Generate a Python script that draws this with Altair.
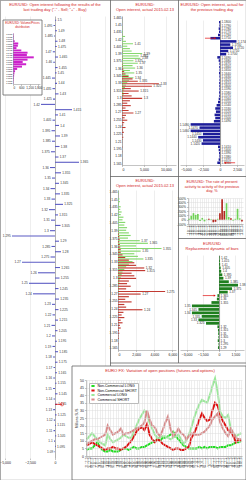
import altair as alt
import pandas as pd

FONT = "Liberation Sans"
TITLE_RED = "#d21a1a"
LEFT_BAR = "#5b5bc4"
NAVY = "#1d1d9a"
CALL_GREEN = "#86d86e"
PUT_RED = "#c23a32"
DARK_GREEN = "#1f7f1f"
MAGENTA = "#cc22cc"
TXT = "#333333"
BORDER = "#666666"
ARROW_RED = "#e01010"
H = 480

# ---------------- Left panel: change of open interest by price level ----------------
left_prices = [1.500, 1.495, 1.490, 1.485, 1.480, 1.475, 1.470, 1.465, 1.460, 1.455,
               1.450, 1.445, 1.440, 1.435, 1.430, 1.425, 1.420, 1.415, 1.410, 1.405,
               1.400, 1.395, 1.390, 1.385, 1.380, 1.375, 1.370, 1.365, 1.360, 1.355,
               1.350, 1.345, 1.340, 1.335, 1.330, 1.325, 1.320, 1.315, 1.310, 1.305,
               1.300, 1.295, 1.290, 1.285, 1.280, 1.275, 1.270, 1.265, 1.260, 1.255,
               1.250, 1.245, 1.240, 1.235, 1.230, 1.225, 1.220, 1.215, 1.210, 1.205,
               1.200, 1.195, 1.190, 1.185, 1.180, 1.175, 1.170, 1.165, 1.160, 1.155,
               1.150, 1.145, 1.140, 1.135, 1.130, 1.125, 1.120, 1.115, 1.110, 1.105,
               1.100, 1.095, 1.090]
left_values = [120, -150, 200, -100, 250, 180, -220, 300, -180, 260,
               150, -300, 200, -250, 350, -200, -1400, 1700, 300, -250,
               400, -350, 500, -300, 450, -400, 350, 2400, -500, 600,
               -300, 400, -450, 500, -350, 800, -600, 300, -400, 550,
               -500, -4300, 400, -350, 600, -450, -3300, 500, -1700, 450,
               -2600, 350, -2200, 400, -300, 350, -250, 300, -350, 250,
               -300, 200, -250, 300, -200, 250, -150, 200, -180, 150,
               -200, 250, -150, 200, -180, 150, -120, 100, -150, 120,
               -100, 80, -60]
current_price = 1.135
current_mark_x = 700
left_title = ["EUR/USD:  Open interest following the results of the",
              'last trading day ("-" - Sell; "+" - Buy)']

inset_levels = ["1.1650", "1.1625", "1.1600", "1.1575", "1.1550", "1.1525", "1.1500", "1.1475",
                "1.1450", "1.1425", "1.1400", "1.1375", "1.1350", "1.1325", "1.1300", "1.1275",
                "1.1250", "1.1225", "1.1200", "1.1175", "1.1150", "1.1125"]
inset_volumes = [30, 50, 40, 120, 380, 350, 250, 600, 1050, 1000, 1500, 1050,
                 700, 950, 650, 300, 150, 100, 80, 60, 40, 30]
inset_title = ["EUR/USD: Volume/Prices", "distribution"]

# ---------------- Middle panels: option open interest by strike ----------------
strikes = ["1.465", "1.46", "1.455", "1.45", "1.445", "1.44", "1.435", "1.43", "1.425", "1.42",
           "1.415", "1.41", "1.405", "1.4", "1.395", "1.39", "1.385", "1.38", "1.375", "1.37",
           "1.365", "1.36", "1.355", "1.35", "1.345", "1.34", "1.335", "1.33", "1.325", "1.32",
           "1.315", "1.31", "1.305", "1.3", "1.295", "1.29", "1.285", "1.28", "1.275", "1.27",
           "1.265", "1.26", "1.255", "1.25", "1.245", "1.24", "1.235", "1.23", "1.225", "1.22",
           "1.215", "1.21", "1.205", "1.2", "1.195", "1.19", "1.185", "1.18", "1.175", "1.17",
           "1.165"]
oi1_calls = [0, 30, 50, 0, 100, 60, 200, 150, 700, 300,
             900, 2500, 1200, 1800, 2200, 4600, 3800, 4200, 2600, 3600,
             2400, 3000, 1800, 2800, 1500, 2600, 1600, 1200, 900, 700,
             500, 300, 400, 200, 150, 100, 80, 60, 40, 50,
             30, 20, 0, 40, 0, 20, 0, 30, 0, 10,
             0, 20, 0, 0, 10, 0, 0, 0, 10, 0, 0]
oi1_puts = [0, 0, 0, 0, 0, 0, 0, 20, 0, 30,
            0, 40, 0, 50, 60, 0, 80, 100, 50, 120,
            200, 300, 500, 800, 1500, 2400, 3600, 8400, 6800, 2000,
            3800, 1500, 2200, 4600, 1800, 1200, 2000, 800, 1500, 2600,
            900, 600, 1200, 500, 300, 800, 200, 400, 150, 300,
            100, 50, 0, 100, 0, 50, 0, 0, 30, 0, 0]
oi2_calls = [50, 100, 0, 150, 200, 100, 300, 250, 400, 300,
             600, 500, 800, 700, 1000, 900, 1200, 1400, 1100, 2400,
             3300, 2000, 4800, 2500, 1800, 2200, 2800, 1600, 1200, 900,
             700, 500, 400, 300, 200, 150, 100, 80, 60, 50,
             40, 30, 20, 0, 30, 0, 20, 0, 10, 0,
             0, 10, 0, 0, 0, 10, 0, 0, 0, 0, 0]
oi2_puts = [0, 0, 0, 0, 0, 0, 0, 0, 0, 0,
            0, 0, 0, 0, 0, 50, 100, 150, 200, 150,
            200, 250, 300, 300, 500, 800, 1200, 1800, 2000, 2900,
            3000, 1500, 1800, 2000, 1200, 1000, 1400, 900, 5200, 2500,
            1200, 800, 1500, 700, 900, 2700, 600, 400, 700, 300,
            500, 200, 300, 100, 150, 50, 80, 0, 40, 0, 0]
oi_title = ["EUR/USD:", "Open interest, actual 2015.02.13"]

# ---------------- Right top: open interest of previous day ----------------
prev_levels = ("1.1800 1.1790 1.1780 1.1770 1.1760 1.1750 1.1740 1.1730 1.1720 1.1710 "
               "1.1700 1.1690 1.1680 1.1670 1.1660 1.1650 1.1640 1.1630 1.1620 1.1610 "
               "1.1600 1.1590 1.1580 1.1570 1.1560 1.1550 1.1540 1.1530 1.1520 1.1510 "
               "1.1500 1.1490 1.1480 1.1470 1.1460 1.1450 1.1440 1.1430 1.1420 1.1410 "
               "1.1400 1.1390 1.1380 1.1370 1.1360").split()
prev_values = [-150, -100, -200, -150, -300, -1400, 2400, 1500, 1900, 1200,
               900, -400, -200, -100, -120, -80, -150, -100, -90, -130,
               -110, -100, -140, -120, -200, -300, -500, -700, -600, -800,
               -700, -900, -4300, -3000, -4300, -2500, -3200, -2500, -2700, -300,
               -200, -150, -100, -200, -400]
prev_title = ["EUR/USD: Open interest, actual for", "the previous trading day"]
# red arrows marking prices: (level, start value, end value)
prev_arrows = [("1.1750", -2200, -700), ("1.1360", 2200, 700)]

# ---------------- Ratio of activity ----------------
ratio_dates = ["12.01.15", "13.01.15", "14.01.15", "15.01.15", "16.01.15", "19.01.15", "20.01.15",
               "21.01.15", "22.01.15", "23.01.15", "26.01.15", "27.01.15", "28.01.15", "29.01.15",
               "30.01.15", "02.02.15", "03.02.15", "04.02.15", "05.02.15", "06.02.15", "09.02.15",
               "10.02.15", "11.02.15", "12.02.15", "13.02.15"]
ratio_values = [20, 90, 150, 110, 130, -30, 40, -40, 10, 20, 10, -60, -50, 20,
                150, 470, 200, 380, 60, 30, -20, 20, 250, 30, -40]
ratio_side = ["g", "g", "g", "g", "g", "g", "g", "g", "g", "r", "g", "r", "r", "g",
              "r", "r", "r", "g", "g", "r", "g", "g", "g", "g", "r"]
ratio_title = ["EUR/USD: The rate of present", "activity to activity of the previous", "day, %"]

# ---------------- Replacement of bars ----------------
repl_levels = ["1.42", "1.415", "1.41", "1.405", "1.4", "1.395", "1.39", "1.385", "1.38",
               "1.375", "1.37", "1.365", "1.36", "1.355", "1.35", "1.345", "1.34", "1.335",
               "1.33", "1.325", "1.32", "1.315", "1.31", "1.305", "1.3", "1.295", "1.29"]
repl_values = [50, 80, 100, 150, 200, 300, 400, 900, 1750, 1200, 800, -150, -200, -700,
               -2500, -1900, -2500, -1600, -1900, -1200, -150, -100, -80, -60, -120, -50, -100]
repl_title = ["EUR/USD", "Replacement dynamic of bars"]
repl_arrows = [("1.365", -1500, -400)]

# ---------------- Bottom: COT positions ----------------
cot_dates = ["24.12.13", "31.12.13", "07.01.14", "14.01.14", "21.01.14", "28.01.14", "04.02.14",
             "11.02.14", "18.02.14", "25.02.14", "04.03.14", "11.03.14", "18.03.14", "25.03.14",
             "01.04.14", "08.04.14", "15.04.14", "22.04.14", "29.04.14", "06.05.14", "13.05.14",
             "20.05.14", "27.05.14", "03.06.14", "10.06.14", "17.06.14", "24.06.14", "01.07.14",
             "08.07.14", "15.07.14", "22.07.14", "29.07.14", "05.08.14", "12.08.14", "19.08.14",
             "26.08.14", "02.09.14", "09.09.14", "16.09.14", "23.09.14", "30.09.14", "07.10.14",
             "14.10.14", "21.10.14", "28.10.14", "04.11.14", "11.11.14", "18.11.14", "25.11.14",
             "02.12.14", "09.12.14", "16.12.14", "23.12.14", "30.12.14", "06.01.15", "13.01.15",
             "20.01.15", "27.01.15", "03.02.15", "10.02.15"]
nc_long = [4, 5, 5, 7, 9, 6, 4, 3, 3, 4, 3, 3, 3, 4, 5, 5, 4, 5, 6, 5,
           5, 6, 6, 7, 8, 9, 10, 11, 10, 12, 12, 13, 14, 16, 13, 11, 9, 7, 6, 5,
           5, 5, 5, 6, 5, 6, 5, 6, 6, 6, 5, 6, 6, 6, 7, 7, 8, 9, 9, 10]
nc_short = [7, 8, 9, 8, 7, 6, 5, 4, 5, 5, 6, 5, 5, 4, 5, 6, 8, 10, 13, 16,
            18, 19, 17, 21, 14, 11, 9, 11, 10, 8, 7, 6, 5, 4, 5, 5, 4, 4, 5, 6,
            12, 15, 19, 24, 28, 25, 23, 24, 30, 35, 33, 27, 23, 20, 17, 16, 13, 9, 11, 10]
c_long = [11, 13, 15, 13, 11, 9, 8, 7, 14, 11, 9, 10, 11, 12, 14, 13, 12, 12, 16, 20,
          24, 27, 30, 28, 22, 18, 14, 12, 12, 13, 13, 12, 11, 12, 13, 14, 11, 8, 10, 14,
          19, 25, 30, 34, 37, 36, 35, 40, 46, 51, 42, 29, 26, 25, 27, 18, 15, 13, 14, 15]
c_short = [8, 9, 10, 11, 11, 12, 13, 14, 20, 17, 14, 15, 16, 18, 14, 15, 15, 16, 17, 18,
           19, 20, 22, 30, 24, 20, 19, 15, 13, 17, 22, 26, 18, 13, 15, 18, 15, 14, 11, 13,
           15, 14, 14, 14, 15, 16, 18, 20, 24, 26, 28, 22, 18, 15, 13, 18, 15, 12, 11, 11]
series_names = ["Non-Commercial LONG", "Non-Commercial SHORT", "Commercial LONG", "Commercial SHORT"]
series_colors = ["#22dd22", "#dd1111", "#9be89b", "#d88a8a"]
series_widths = [2.0, 2.0, 0.8, 0.8]
cot_title = "EURO FX: Variation of open positions (futures and options)"

ONE = pd.DataFrame({"a": [0]})


def grid_axis(values):
    return alt.Axis(orient="top", grid=True, labels=False, ticks=False, domain=False,
                    values=values, title=None)


def hline(x1, x2, y, color=BORDER, w=0.8):
    return alt.Chart(ONE).mark_rule(color=color, strokeWidth=w).encode(
        x=alt.value(x1), x2=alt.value(x2), y=alt.value(y))


def vline(x, y1, y2, color=BORDER, w=0.8):
    return alt.Chart(ONE).mark_rule(color=color, strokeWidth=w).encode(
        x=alt.value(x), y=alt.value(y1), y2=alt.value(y2))


def box(x1, x2, y1, y2):
    return alt.Chart(ONE).mark_rect(fill="white", stroke=BORDER, strokeWidth=0.8).encode(
        x=alt.value(x1), x2=alt.value(x2), y=alt.value(y1), y2=alt.value(y2))


def ttl(lines, x, y, size=4.0):
    return alt.Chart(ONE).mark_text(text=lines, fontSize=size, color=TITLE_RED, baseline="top",
                                    align="center", lineHeight=size * 1.2).encode(
        x=alt.value(x), y=alt.value(y))


children = []

# ---- left panel ----
XL = alt.Scale(domain=[-5300, 5300], range=[2, 108], nice=False, zero=False)
YL = alt.Scale(domain=[1.084, 1.504], range=[458, 16], nice=False, zero=False)
left_df = pd.DataFrame({"p": left_prices, "v": left_values})
xl = alt.X("v:Q", scale=XL, axis=alt.Axis(orient="bottom", offset=458 - H, values=[-5000, -2500, 0],
                                          grid=False, domain=False, title=None))
yl = alt.Y("p:Q", scale=YL, axis=None)
left_grid = alt.Chart(left_df).mark_rule(opacity=0).encode(
    x=alt.X("v:Q", scale=XL, axis=grid_axis([-5000, -2500, 0, 2500, 5000])),
    y=alt.Y("p:Q", scale=YL, axis=alt.Axis(orient="left", offset=-55, labels=False, ticks=False,
                                           grid=False, domainColor="#777777", title=None)))
left_bars = alt.Chart(left_df).mark_rule(color=LEFT_BAR, strokeWidth=1.1).encode(
    x=xl, x2=alt.datum(0), y=yl)
left_pos = alt.Chart(left_df).transform_filter("datum.v > 0").mark_text(
    align="left", dx=1.2, fontSize=3.2, color=TXT).encode(
    x=xl, y=yl, text=alt.Text("p:Q", format=".3~f"))
left_neg = alt.Chart(left_df).transform_filter("datum.v <= 0").mark_text(
    align="right", dx=-1.2, fontSize=3.2, color=TXT).encode(
    x=xl, y=yl, text=alt.Text("p:Q", format=".3~f"))
cur_df = pd.DataFrame({"p": [current_price], "v": [current_mark_x]})
cur_rule = alt.Chart(cur_df).mark_rule(color=ARROW_RED, strokeWidth=0.8).encode(
    x=xl, x2=alt.datum(0), y=yl)
cur_pt = alt.Chart(cur_df).mark_point(shape="circle", size=10, color=ARROW_RED, filled=False,
                                      strokeWidth=0.8).encode(x=xl, y=yl)
children += [left_grid, alt.layer(left_bars, left_pos, left_neg, cur_rule, cur_pt)]

# ---- inset ----
children.append(box(3, 42, 20, 95))
inset_df = pd.DataFrame({"lvl": inset_levels, "vol": inset_volumes})
inset = alt.Chart(inset_df).mark_bar(color=MAGENTA).encode(
    x=alt.X("vol:Q", scale=alt.Scale(domain=[0, 1950], range=[13, 40], nice=False),
            axis=alt.Axis(orient="bottom", offset=84 - H, values=[0, 600, 1200, 1800], grid=False,
                          title=None, labelFontSize=3, zindex=1)),
    y=alt.Y("lvl:N", sort=inset_levels, scale=alt.Scale(range=[33, 84], paddingInner=0.15),
            axis=alt.Axis(orient="left", offset=-13, title=None, labelFontSize=2.1, ticks=False,
                          labelOverlap=False, labelPadding=1, grid=False, zindex=1)))
children.append(inset)


# ---- middle panels ----
def oi_panel(calls, puts, xmax, xticks, x0, y0, y1, thresh):
    rows = []
    for s, c, p in zip(strikes, calls, puts):
        rows.append({"s": s, "type": "calls", "v": c})
        rows.append({"s": s, "type": "puts", "v": p})
    df = pd.DataFrame(rows)
    XS = alt.Scale(domain=[0, xmax], range=[x0, 176], nice=False)
    YS = alt.Scale(range=[y0, y1], paddingInner=0.1, paddingOuter=0.2)
    y = alt.Y("s:N", sort=strikes, scale=YS,
              axis=alt.Axis(orient="left", offset=-x0, values=strikes[::3], title=None, ticks=False,
                            labelFontSize=3.2, labelOverlap=False, labelPadding=1, domainColor="#666666"))
    x = alt.X("v:Q", scale=XS, axis=alt.Axis(orient="bottom", offset=y1 - H, values=xticks,
                                             grid=False, title=None))
    yo = alt.YOffset("type:N", sort=["calls", "puts"])
    bars = alt.Chart(df).mark_bar().encode(
        x=x, y=y, yOffset=yo,
        color=alt.Color("type:N", scale=alt.Scale(domain=["calls", "puts"], range=[CALL_GREEN, PUT_RED]),
                        legend=None))
    lbls = alt.Chart(df).transform_filter(f"datum.v >= {thresh}").mark_text(
        align="left", dx=1.5, fontSize=3.2, color=TXT).encode(x=x, y=y, yOffset=yo, text="s:N")
    grid = alt.Chart(df).mark_rule(opacity=0).encode(
        x=alt.X("v:Q", scale=XS, axis=grid_axis(xticks)),
        y=alt.Y("s:N", sort=strikes, scale=YS, axis=None))
    return [grid, alt.layer(bars, lbls)]


children += oi_panel(oi1_calls, oi1_puts, 12300, [0, 5000, 10000], 122, 16, 165, 2500)
children += oi_panel(oi2_calls, oi2_puts, 6400, [0, 2000, 4000, 6000], 118, 190, 350, 2400)


# ---- right level panels ----
def level_panel(levels, values, xdom, xticks, x0, x1, y0, y1, color, big, arrows):
    df = pd.DataFrame({"lvl": levels, "v": values})
    XS = alt.Scale(domain=xdom, range=[x0, x1], nice=False, zero=False)
    YS = alt.Scale(range=[y0, y1], paddingInner=0.2, paddingOuter=0.3)
    zero_px = x0 + (0 - xdom[0]) / (xdom[1] - xdom[0]) * (x1 - x0)
    x = alt.X("v:Q", scale=XS, axis=alt.Axis(orient="bottom", offset=y1 - H, values=xticks,
                                             grid=False, title=None))
    y = alt.Y("lvl:N", sort=levels, scale=YS,
              axis=alt.Axis(orient="left", offset=-zero_px, labels=False, ticks=False, grid=False,
                            domainColor="#444444", title=None))
    bars = alt.Chart(df).mark_bar(color=color).encode(x=x, x2=alt.datum(0), y=y)
    lab_r = alt.Chart(df).transform_filter(f"datum.v > {big}").transform_calculate(
        lx="datum.v > 0 ? datum.v : 0").mark_text(align="left", dx=1.5, fontSize=3.1, color=TXT).encode(
        x=alt.X("lx:Q", scale=XS), y=y, text="lvl:N")
    lab_l = alt.Chart(df).transform_filter(f"datum.v <= {big}").mark_text(
        align="right", dx=-1.5, fontSize=3.1, color=TXT).encode(x=x, y=y, text="lvl:N")
    adf = pd.DataFrame([{"lvl": a[0], "v": a[1], "v2": a[2],
                         "shape": "triangle-right" if a[2] > a[1] else "triangle-left"} for a in arrows])
    arr_line = alt.Chart(adf).mark_rule(color=ARROW_RED, strokeWidth=0.7).encode(
        x=alt.X("v:Q", scale=XS), x2="v2:Q", y=y)
    arr_head = alt.Chart(adf).mark_point(filled=True, color=ARROW_RED, size=5, opacity=1).encode(
        x=alt.X("v2:Q", scale=XS), y=y,
        shape=alt.Shape("shape:N", scale=None))
    grid = alt.Chart(df).mark_rule(opacity=0).encode(
        x=alt.X("v:Q", scale=XS, axis=grid_axis(xticks)),
        y=alt.Y("lvl:N", sort=levels, scale=YS, axis=None))
    return [grid, alt.layer(bars, lab_r, lab_l, arr_line, arr_head)]


children += level_panel(prev_levels, prev_values, [-5850, 3500], [-5000, -2500, 0, 2500],
                        180, 244, 20, 165, NAVY, -2000, prev_arrows)
children += level_panel(repl_levels, repl_values, [-3600, 2300], [-3000, -1500, 0, 1500],
                        180, 244, 255, 350, DARK_GREEN, -1000, repl_arrows)

# ---- ratio panel ----
ratio_df = pd.DataFrame({"d": ratio_dates, "v": ratio_values, "side": ratio_side})
XR = alt.Scale(range=[188, 243], paddingInner=0.25, paddingOuter=0.1)
YR = alt.Scale(domain=[-100, 500], range=[224, 198], nice=False)
ratio_grid = alt.Chart(ratio_df).mark_rule(opacity=0).encode(
    x=alt.X("d:N", sort=ratio_dates, scale=XR, axis=grid_axis(ratio_dates)),
    y=alt.Y("v:Q", scale=YR, axis=None))
ratio = alt.Chart(ratio_df).mark_bar().encode(
    x=alt.X("d:N", sort=ratio_dates, scale=XR,
            axis=alt.Axis(orient="bottom", offset=224 - H, labelAngle=270, labelFontSize=2.6, grid=False,
                          ticks=False, title=None, labelOverlap=False, labelPadding=1)),
    y=alt.Y("v:Q", scale=YR,
            axis=alt.Axis(orient="left", offset=-188, values=[-100, 0, 100, 200, 300, 400, 500],
                          labelExpr="datum.value + '%'", grid=True, title=None, labelFontSize=3.1)),
    color=alt.Color("side:N", scale=alt.Scale(domain=["g", "r"], range=["#6fd155", "#b3261e"]),
                    legend=None))
children += [ratio_grid, ratio]

# ---- panel borders ----
children += [vline(110.5, 0, 366), vline(178.5, 0, 363), hline(110, 246, 176.5),
             hline(178, 246, 238.5), hline(110, 246, 363)]

# ---- bottom COT chart ----
children.append(box(72, 246, 366, 480))
cot_rows = []
for name, vals in zip(series_names, [nc_long, nc_short, c_long, c_short]):
    for d, v in zip(cot_dates, vals):
        cot_rows.append({"d": d, "series": name, "v": v})
cot_df = pd.DataFrame(cot_rows)
XB = alt.Scale(type="point", range=[86, 242], padding=0.3)
YB = alt.Scale(domain=[0, 50], range=[456, 380], nice=False)
cot_grid = alt.Chart(cot_df).mark_rule(opacity=0).encode(
    x=alt.X("d:N", sort=cot_dates, scale=XB,
            axis=alt.Axis(orient="top", grid=True, labels=False, ticks=False, domain=False,
                          title=None, zindex=1)),
    y=alt.Y("v:Q", scale=YB, axis=None))
cot = alt.Chart(cot_df).mark_line().encode(
    x=alt.X("d:N", sort=cot_dates, scale=XB,
            axis=alt.Axis(orient="bottom", offset=456 - H, labelAngle=270, labelFontSize=2.6, grid=False,
                          ticks=False, title=None, labelOverlap=False, labelPadding=1, zindex=1)),
    y=alt.Y("v:Q", scale=YB,
            axis=alt.Axis(orient="left", offset=-86, values=[0, 5, 10, 15, 20, 25, 30, 35, 40, 45, 50],
                          grid=True, title="Millions $US", titleFontSize=3.5, titlePadding=1, zindex=1)),
    color=alt.Color("series:N", sort=series_names,
                    scale=alt.Scale(domain=series_names, range=series_colors),
                    legend=alt.Legend(orient="none", legendX=89, legendY=383, title=None,
                                      symbolType="stroke", symbolStrokeWidth=1.5, symbolSize=10,
                                      labelFontSize=3.5, rowPadding=0.5, padding=1,
                                      labelOffset=1.5, clipHeight=4,
                                      fillColor="white", strokeColor="#bbbbbb", labelLimit=0,
                                      zindex=1)),
    strokeWidth=alt.StrokeWidth("series:N", scale=alt.Scale(domain=series_names, range=series_widths),
                                legend=None))
children += [cot_grid, cot]

# ---- titles ----
children += [ttl(left_title, 55, 3), ttl(inset_title, 22.5, 22, 3.0), ttl(oi_title, 145, 3),
             ttl(oi_title, 145, 179), ttl(prev_title, 212, 3), ttl(ratio_title, 212, 180, 3.8),
             ttl(repl_title, 212, 242), ttl(cot_title, 160, 369, 4.2)]

chart = alt.layer(*children).resolve_scale(
    x="independent", y="independent", color="independent", yOffset="independent",
    strokeWidth="independent", shape="independent").resolve_axis(
    x="independent", y="independent").resolve_legend(
    color="independent").properties(width=246, height=480, padding=0,
                                    autosize=alt.AutoSizeParams(type="none"))

chart = chart.configure(font=FONT).configure_view(
    stroke="#777777", strokeWidth=0.8).configure_axis(
    labelFontSize=3.5, labelColor="#222222", tickSize=1.5, tickColor="#888888", tickWidth=0.5,
    domainColor="#888888", domainWidth=0.5, gridColor="#dcdcdc", gridWidth=0.5, labelPadding=1,
    titleFontWeight="normal", titleColor="#222222")

chart.save("out.html", embed_options={"renderer": "svg", "actions": False})
